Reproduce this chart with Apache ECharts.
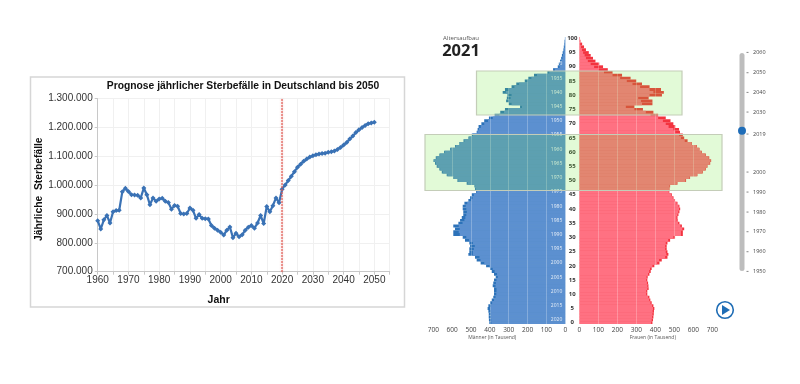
<!DOCTYPE html>
<html><head><meta charset="utf-8">
<style>html,body{margin:0;padding:0;background:#fff}#c{width:800px;height:384px}</style>
<script src="https://cdn.jsdelivr.net/npm/echarts@6/dist/echarts.min.js"></script>
</head><body><div id="c"></div>
<script>
const deaths = [877,848,880,895,869,908,912,913,977,989,978,967,966,965,956,990,967,932,956,944,
952,955,944,940,917,930,927,902,900,902,921,913,885,898,885,884,883,860,851,844,
837,827,844,855,818,833,821,828,844,854,860,851,869,895,867,926,908,929,956,939,
986,1001,1016,1031,1047,1062,1073,1083,1091,1098,1102,1106,1108,1110,1111,1114,1116,1119,1124,1131,
1139,1148,1160,1171,1183,1192,1200,1207,1213,1216,1218];
const firstYear = 1960;
const ages = Array.from({length:101},(_,i)=>String(i));
const maleTotal = [403,405,406,406,408,412,408,399,390,382,378,
378,378,385,382,378,369,378,390,399,420,
449,470,479,514,509,509,505,509,532,544,
594,594,585,594,567,558,549,541,541,544,
544,535,514,505,496,473,479,482,523,572,
594,629,655,668,682,691,700,687,668,643,
611,585,562,540,514,496,470,465,460,445,
430,405,375,345,320,240,300,314,310,307,
332,320,285,260,215,196,166,95,65,40,
35,28,22,18,14,10,8,5,4,2];
const maleInner = [392,393,394,395,396,398,395,388,378,370,366,
365,365,370,368,365,358,362,375,385,402,
430,450,455,490,490,485,480,490,510,525,
560,565,560,565,545,535,530,525,522,525,
528,520,500,492,485,468,475,478,518,568,
590,625,650,664,678,687,696,683,664,639,
607,581,558,535,510,490,466,458,448,430,
410,385,350,325,300,230,285,300,290,285,
315,300,270,245,200,180,150,85,55,30,
25,20,15,12,9,6,4,3,2,1];
const femaleTotal = [385,388,390,392,393,395,390,381,374,369,358,
358,365,364,362,358,360,369,376,381,395,
422,434,464,469,464,460,460,464,478,504,
545,545,552,540,527,518,517,522,527,531,
527,517,504,496,487,474,475,478,517,562,
583,622,650,666,675,689,694,684,666,645,
633,619,592,570,552,545,530,525,505,495,
480,455,415,390,335,290,385,385,365,435,
445,430,370,330,300,270,225,175,150,125,
105,85,72,60,50,35,25,15,6,3];
const femaleInner = [378,381,383,385,386,388,383,375,368,362,352,
352,358,358,356,352,354,362,368,372,385,
410,420,452,458,455,452,452,455,468,495,
535,535,542,532,520,512,511,516,521,525,
522,512,500,492,483,471,472,475,513,558,
580,619,647,663,672,686,691,681,663,642,
630,616,589,555,535,525,505,495,470,455,
440,415,375,350,290,245,330,325,310,370,
390,370,320,280,250,215,175,130,100,78,
60,45,35,28,20,14,9,5,2,1];
const sliderYears = [['2060',52.3],['2050',72.7],['2040',92.3],['2030',112],['2019',134],['2000',172],['1990',192],['1980',212],['1970',231.7],['1960',251.7],['1950',271.3]];
const censusYear = 2021;

const lineData = deaths.map((v,i)=>[firstYear+i, v*1000]);
const sans = 'Liberation Sans';
const small = 'Open Sans';
const boxStyle = {fill:'rgba(100,230,40,0.19)', stroke:'#c4cdb8', lineWidth:1.2};

const graphic = [
 {type:'rect', z:0, shape:{x:30.5,y:77,width:374,height:230}, style:{fill:'#fff',stroke:'#d6d6d6',lineWidth:1.5}},
 {type:'text', z:20, x:461, y:38, style:{text:'Altersaufbau',font:'6px "Open Sans"',fill:'#555',align:'center',verticalAlign:'middle'}},
 {type:'text', z:20, x:461, y:51.5, style:{text:'2021',font:'bold 16.5px "Open Sans"',fill:'#222',align:'center',verticalAlign:'middle'}},
 {type:'rect', z:10, shape:{x:476.5,y:71,width:205.5,height:44}, style:boxStyle},
 {type:'rect', z:10, shape:{x:425,y:134.5,width:297,height:56}, style:boxStyle},
 {type:'rect', z:20, shape:{x:739.5,y:53,width:5,height:218,r:2.5}, style:{fill:'#bdbdbd'}},
 {type:'circle', z:21, shape:{cx:742,cy:130.7,r:4}, style:{fill:'#1f6db8'}},
 {type:'circle', z:20, shape:{cx:725,cy:310,r:8.3}, style:{fill:'#fff',stroke:'#1f6db5',lineWidth:1.6}},
 {type:'polygon', z:21, shape:{points:[[722,305],[722,315],[730,310]]}, style:{fill:'#1f6db5'}},
 {type:'text', z:20, x:243, y:86, style:{text:'Prognose jährlicher Sterbefälle in Deutschland bis 2050',font:'bold 10.3px "Liberation Sans"',fill:'#111',align:'center',verticalAlign:'middle'}}
];
sliderYears.forEach(([t,y])=>{
 graphic.push({type:'rect', z:20, shape:{x:746.5,y:y-0.4,width:2,height:0.9}, style:{fill:'#777'}});
 graphic.push({type:'text', z:20, x:753, y:y, style:{text:t,font:'5.5px "Open Sans"',fill:'#444',align:'left',verticalAlign:'middle'}});
});

const option = {
 animation:false, backgroundColor:'#fff',
 graphic,
 grid:[
  {left:97.7, top:98.7, width:292, height:173},
  {left:433.3, top:36.9, width:132, height:287.2},
  {left:579.3, top:36.9, width:133, height:287.2}
 ],
 xAxis:[
  {gridIndex:0,type:'value',min:1960,max:2055,interval:5,name:'Jahr',nameLocation:'middle',nameGap:23,
   nameTextStyle:{fontFamily:sans,fontWeight:'bold',fontSize:10.5,color:'#111',padding:[0,50,0,0]},
   axisLine:{show:true,lineStyle:{color:'#c8c8c8'}},axisTick:{show:true,length:3,lineStyle:{color:'#c8c8c8'}},
   splitLine:{show:true,lineStyle:{color:'#f0f0f0'}},
   axisLabel:{margin:4,fontFamily:sans,fontSize:10,color:'#333',showMinLabel:true,hideOverlap:false,
    formatter:v=>v%10===0&&v<=2050?String(v):''}},
  {gridIndex:1,type:'value',inverse:true,min:0,max:700,interval:100,z:5,name:'Männer (in Tausend)',nameLocation:'middle',nameGap:10.5,nameMoveOverlap:false,
   nameTextStyle:{fontFamily:small,fontSize:5,color:'#555',padding:[0,0,0,-14]},
   axisLine:{show:false},axisTick:{show:false},
   splitLine:{show:true,lineStyle:{color:'rgba(255,255,255,0.25)'}},
   axisLabel:{margin:3,fontFamily:small,fontSize:6.5,color:'#444'}},
  {gridIndex:2,type:'value',min:0,max:700,interval:100,z:5,name:'Frauen (in Tausend)',nameLocation:'middle',nameGap:10.5,nameMoveOverlap:false,
   nameTextStyle:{fontFamily:small,fontSize:5,color:'#555',padding:[0,0,0,14]},
   axisLine:{show:false},axisTick:{show:false},
   splitLine:{show:true,lineStyle:{color:'rgba(255,255,255,0.25)'}},
   axisLabel:{margin:3,fontFamily:small,fontSize:6.5,color:'#444'}}
 ],
 yAxis:[
  {gridIndex:0,type:'value',min:700000,max:1300000,interval:100000,name:'Jährliche  Sterbefälle',nameLocation:'middle',nameGap:50,
   nameTextStyle:{fontFamily:sans,fontWeight:'bold',fontSize:10.3,color:'#111',padding:[0,8,0,0]},
   axisLine:{show:true,lineStyle:{color:'#c8c8c8'}},axisTick:{show:true,length:3,lineStyle:{color:'#c8c8c8'}},
   splitLine:{show:true,lineStyle:{color:'#f0f0f0'}},
   axisLabel:{margin:5,fontFamily:sans,fontSize:10,color:'#333',
    formatter:v=>String(v).replace(/\B(?=(\d{3})+$)/g,'.')}},
  {gridIndex:1,type:'category',data:ages,position:'right',z:5,
   axisLine:{show:false},axisTick:{show:false},
   axisLabel:{inside:true,margin:3,interval:0,fontFamily:small,fontSize:5,color:'rgba(255,255,255,0.85)',
    formatter:a=>{const y=censusYear-Number(a);return (y%5===0&&y>=1930)?String(y):'';}}},
  {gridIndex:2,type:'category',data:ages,position:'left',z:5,
   axisLine:{show:false},axisTick:{show:false},
   axisLabel:{margin:7,interval:4,align:'center',fontFamily:small,fontWeight:'bold',fontSize:6,color:'#333'}}
 ],
 series:[
  {type:'line',xAxisIndex:0,yAxisIndex:0,data:lineData,symbol:'diamond',symbolSize:5,showSymbol:true,
   lineStyle:{color:'#3a72b5',width:2.2},itemStyle:{color:'#3a72b5'},
   markLine:{silent:true,symbol:'none',label:{show:false},
    lineStyle:{color:'#e2574f',type:'dotted',width:1.5,shadowColor:'rgba(230,80,80,0.5)',shadowBlur:2},data:[{xAxis:2020}]}},
  {type:'bar',xAxisIndex:1,yAxisIndex:1,data:maleTotal,barCategoryGap:'0%',barGap:'-100%',itemStyle:{color:'#2c72b9'}},
  {type:'bar',xAxisIndex:1,yAxisIndex:1,data:maleInner,barCategoryGap:'0%',barGap:'-100%',itemStyle:{color:'#5c90d0'}},
  {type:'bar',xAxisIndex:2,yAxisIndex:2,data:femaleTotal,barCategoryGap:'0%',barGap:'-100%',itemStyle:{color:'#f3333f'}},
  {type:'bar',xAxisIndex:2,yAxisIndex:2,data:femaleInner,barCategoryGap:'0%',barGap:'-100%',itemStyle:{color:'#ff7182'}}
 ]
};
const chart = echarts.init(document.getElementById('c'),null,{renderer:'canvas'});
chart.setOption(option);
</script></body></html>
